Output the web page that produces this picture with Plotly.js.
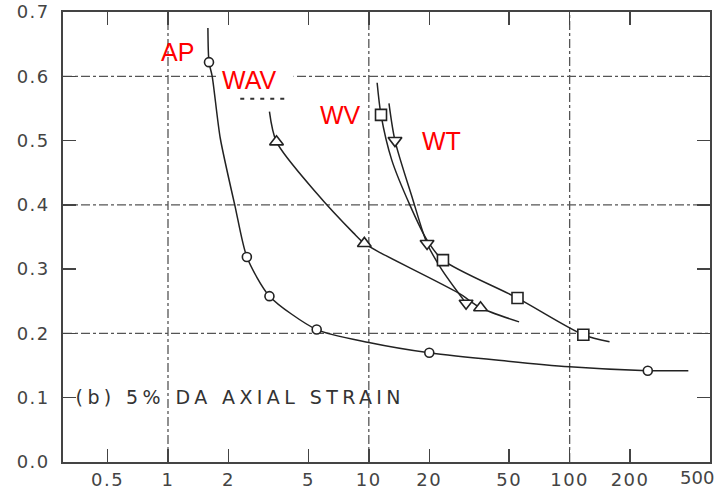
<!DOCTYPE html>
<html><head><meta charset="utf-8">
<script src="https://cdn.plot.ly/plotly-3.0.1.min.js"></script>
<style>html,body{margin:0;padding:0;background:#fff}#chart{width:726px;height:493px}</style>
</head><body><div id="chart"></div><script>
// ---- data ----
const xTickVals = [0.5, 1, 2, 5, 10, 20, 50, 100, 200, 500];
const xTickText = ["0.5", "1", "2", "5", "10", "20", "50", "100", "200", "500"];
const yTickVals = [0, 0.1, 0.2, 0.3, 0.4, 0.5, 0.6, 0.7];
const yTickText = ["0.0", "0.1", "0.2", "0.3", "0.4", "0.5", "0.6", "0.7"];
const xGridVals = [1, 10, 100];
const yGridVals = [0.2, 0.4, 0.6];

// AP (circles)
const apX = [1.6, 2.47, 3.2, 5.5, 20, 245];
const apY = [0.622, 0.319, 0.258, 0.206, 0.17, 0.142];
const apCurveX = [1.58, 1.6, 1.66, 1.82, 2.16, 2.47, 3.2, 5.5, 10, 20, 100, 245, 390];
const apCurveY = [0.675, 0.622, 0.6, 0.504, 0.397, 0.319, 0.258, 0.206, 0.186, 0.17, 0.148, 0.142, 0.142];
// WAV (triangles)
const wavX = [3.47, 9.5, 36];
const wavY = [0.498, 0.34, 0.24];
const wavCurveX = [3.2, 3.47, 5.5, 8.4, 9.5, 11.5, 27.9, 36, 56];
const wavCurveY = [0.545, 0.498, 0.418, 0.356, 0.34, 0.325, 0.263, 0.24, 0.218];
// WV (squares)
const wvX = [11.5, 23.4, 55, 117];
const wvY = [0.54, 0.314, 0.255, 0.198];
const wvCurveX = [11, 11.5, 13, 16, 19.5, 23.4, 55, 117, 158];
const wvCurveY = [0.59, 0.54, 0.47, 0.40, 0.345, 0.314, 0.255, 0.198, 0.187];
// WT (inverted triangles)
const wtX = [13.5, 19.5, 30.5];
const wtY = [0.5, 0.34, 0.247];
const wtCurveX = [12.6, 13.5, 16.5, 19.5, 23, 27.9, 30.5];
const wtCurveY = [0.558, 0.5, 0.41, 0.34, 0.3, 0.263, 0.247];

const labels = ["AP", "WAV", "WV", "WT"];
const labelX = [1.12, 2.54, 7.24, 22.9];
const labelY = [0.638, 0.594, 0.54, 0.5];
const caption = "(b) 5% DA AXIAL STRAIN";

// ---- drawing ----
const ink = '#222';
function curve(x, y, sm) {
  return {x: x, y: y, type: 'scatter', mode: 'lines', hoverinfo: 'skip', showlegend: false,
    line: {color: ink, width: 1.5, shape: 'spline', smoothing: sm}};
}
function pts(x, y, sym, size) {
  return {x: x, y: y, type: 'scatter', mode: 'markers', showlegend: false,
    marker: {symbol: sym, size: size, color: '#fff', line: {color: ink, width: 1.6}}};
}
const traces = [
  curve(apCurveX, apCurveY, 0.7), curve(wavCurveX, wavCurveY, 0.8), curve(wvCurveX, wvCurveY, 0.8), curve(wtCurveX, wtCurveY, 0.8),
  pts(apX, apY, 'circle', 9), pts(wavX, wavY, 'triangle-up', 12), pts(wvX, wvY, 'square', 11), pts(wtX, wtY, 'triangle-down', 12)
];

const gridLine = {color: '#555', width: 1.3, dash: 'dashdot'};
const shapes = [];
xGridVals.forEach(v => shapes.push({type: 'line', xref: 'x', yref: 'paper', x0: v, x1: v, y0: 0, y1: 1, layer: 'below', line: gridLine}));
yGridVals.forEach(v => shapes.push({type: 'line', xref: 'paper', yref: 'y', x0: 0, x1: 1, y0: v, y1: v, layer: 'below', line: gridLine}));
// white patch behind the WAV label (hides the grid line there, not the curves)
shapes.push({type: 'rect', xref: 'x', yref: 'y', x0: 1.74, x1: 4.22, y0: 0.575, y1: 0.625, layer: 'below',
  fillcolor: '#fff', line: {width: 0}});
// remnant dotted stroke under the WAV label in the scan
shapes.push({type: 'line', xref: 'x', yref: 'y', x0: 2.29, x1: 3.94, y0: 0.565, y1: 0.565, layer: 'below',
  line: {color: '#333', width: 2, dash: '4px,6px'}});

const annotations = labels.map((t, i) => ({
  x: Math.log10(labelX[i]), y: labelY[i], xref: 'x', yref: 'y', text: t, showarrow: false,
  font: {family: 'Liberation Sans, Arial, sans-serif', size: 25, color: '#ff0000'},
  xanchor: 'center', yanchor: 'middle'
}));
annotations.push({
  x: Math.log10(2.3), y: 0.101, xref: 'x', yref: 'y', text: caption, showarrow: false,
  font: {family: 'DejaVu Sans, sans-serif', size: 19, color: '#333'}, xanchor: 'center', yanchor: 'middle'
});
// last x tick label sits just inside the frame in the reference
annotations.push({
  x: Math.log10(xTickVals[xTickVals.length - 1]), y: 0, xref: 'x', yref: 'paper', yshift: -3,
  text: xTickText[xTickText.length - 1], showarrow: false, xanchor: 'right', yanchor: 'top', xshift: 6,
  font: {family: 'DejaVu Sans, sans-serif', size: 18, color: '#444'}
});
const xTickTextAxis = xTickText.map((t, i) => i === xTickText.length - 1 ? '' : t);

const tickFont = {family: 'DejaVu Sans, sans-serif', size: 18, color: '#444'};
const axisCommon = {
  ticks: 'inside', ticklen: 13, tickwidth: 1.5, tickcolor: '#444',
  showline: true, linecolor: '#444', linewidth: 1.6, mirror: 'allticks',
  showgrid: false, zeroline: false, tickfont: tickFont, fixedrange: true
};
const layout = {
  width: 726, height: 493,
  margin: {l: 63, r: 16, t: 12, b: 31},
  paper_bgcolor: '#fff', plot_bgcolor: '#fff',
  xaxis: Object.assign({}, axisCommon, {
    type: 'log', range: [Math.log10(0.3), Math.log10(500)],
    tickmode: 'array', tickvals: xTickVals, ticktext: xTickTextAxis, ticklabelstandoff: 1
  }),
  yaxis: Object.assign({}, axisCommon, {
    range: [0, 0.7], tickmode: 'array', tickvals: yTickVals, ticktext: yTickText, ticklabelstandoff: 8
  }),
  shapes: shapes,
  annotations: annotations
};

Plotly.newPlot('chart', traces, layout, {displayModeBar: false, staticPlot: true}).then(() => {
  document.querySelectorAll('.annotation-text').forEach(el => {
    if (el.textContent === caption) el.style.letterSpacing = '4.4px';
  });
  document.querySelectorAll('.xtick text, .ytick text').forEach(el => { el.style.letterSpacing = '1.5px'; });
});
</script></body></html>
